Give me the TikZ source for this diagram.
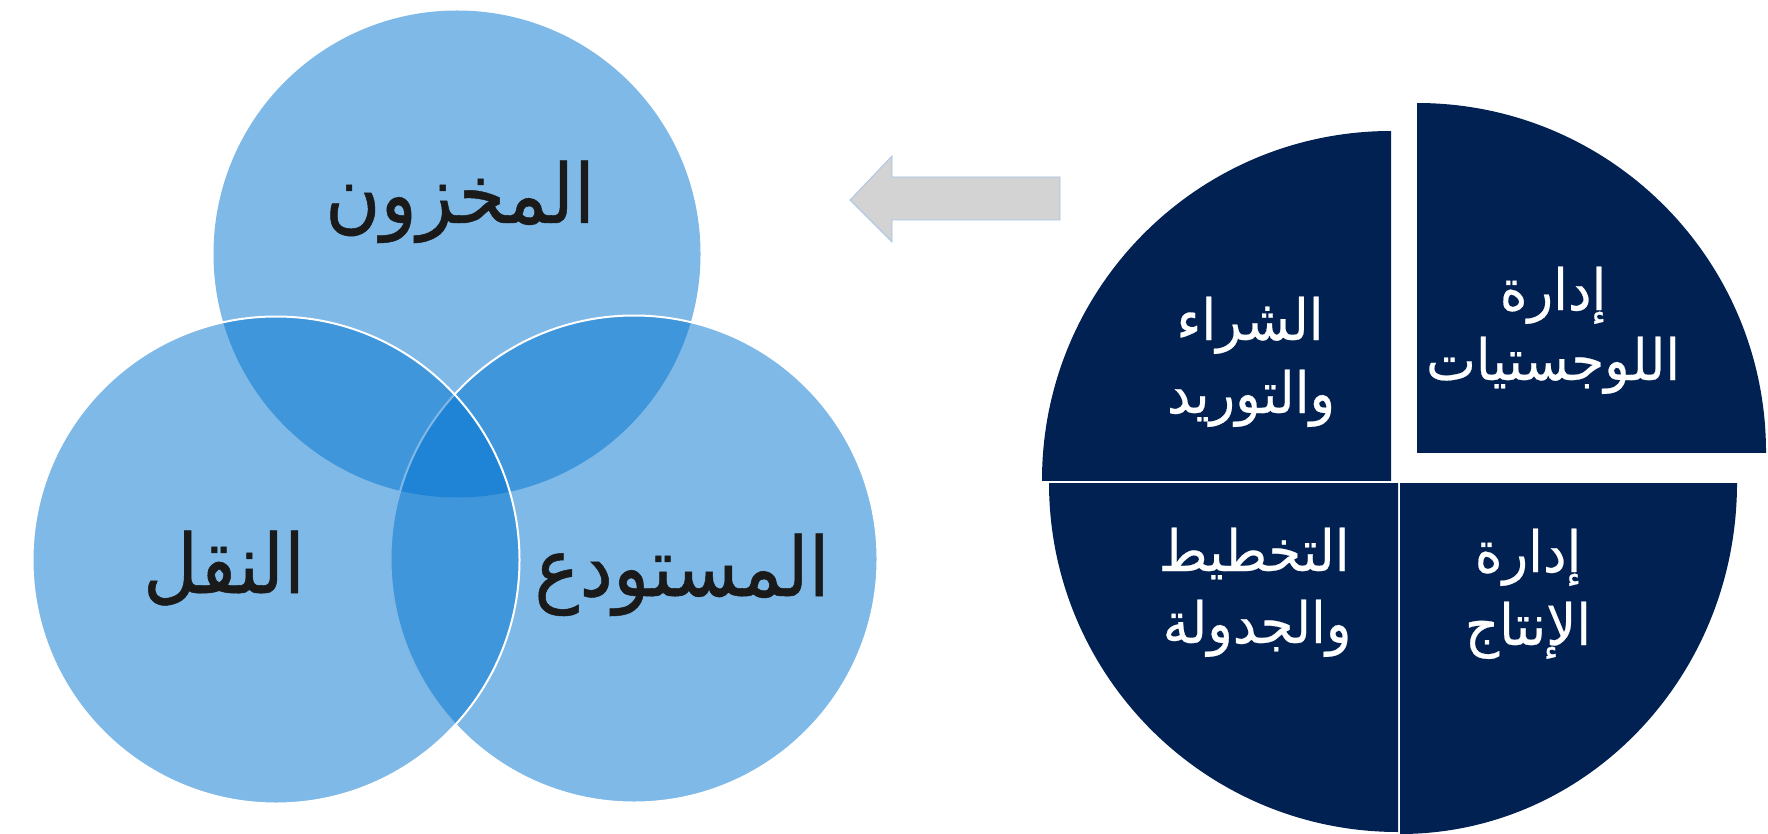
\documentclass[tikz,border=0pt]{standalone}
\usepackage{fontspec}
\TeXXeTstate=1
\newfontfamily\vennfont[Script=Arabic, FakeStretch=0.92, FakeBold=0.6]{DejaVu Sans}
\newfontfamily\piefont[Script=Arabic, FakeStretch=0.93, FakeBold=0.4]{DejaVu Sans}
\definecolor{vennblue}{RGB}{0,115,207}
\definecolor{pienavy}{RGB}{0,33,82}
\definecolor{arrowgray}{RGB}{211,211,211}
\definecolor{arrowedge}{RGB}{165,195,232}
\definecolor{venntextc}{RGB}{26,26,26}
\begin{document}
\begin{tikzpicture}[x=1pt,y=-1pt,
  vennc/.style={circle, minimum size=487pt, inner sep=0pt, outer sep=0pt, fill=vennblue, fill opacity=0.5},
  vennedge/.style={draw=white, line width=2pt},
  venntext/.style={anchor=base, inner sep=0pt, text=venntextc, font=\vennfont\fontsize{82}{96}\selectfont},
  pietext/.style={anchor=base, inner sep=0pt, text=white, font=\piefont\fontsize{57}{68}\selectfont},
  piefill/.style={fill=pienavy},
  arrowshape/.style={fill=arrowgray, draw=arrowedge, line width=0.8pt}]
\useasboundingbox (0,0) rectangle (1768,834);
\clip (0,0) rectangle (1768,834);
% Venn circles
\node[vennc] (inv) at (457,254) {};
\node[vennc, vennedge] (wh) at (634,559) {};
\node[vennc, vennedge] (tr) at (276,560) {};
\node[venntext] (tinv) at (460,223) {\beginR المخزون\endR};
\node[venntext] (ttr) at (224,593) {\beginR النقل\endR};
\node[venntext] (twh) at (682,596) {\beginR المستودع\endR};
% arrow
\draw[arrowshape] (850,200) -- (892,156) -- (892,177) -- (1060,177) -- (1060,220) -- (892,220) -- (892,242) -- cycle;
% pie pieces
\begin{scope}
  \clip (1417,0) rectangle (1768,452);
  \fill[piefill] (1417,452) circle[radius=349pt];
\end{scope}
\begin{scope}
  \clip (1000,0) rectangle (1391,480);
  \fill[piefill] (1391,480) circle[radius=349pt];
\end{scope}
\begin{scope}
  \clip (1000,483) rectangle (1398,834);
  \fill[piefill] (1398,483) circle[radius=349pt];
\end{scope}
\begin{scope}
  \clip (1400,483) rectangle (1768,834);
  \fill[piefill] (1400,483) ellipse[x radius=337pt, y radius=351pt];
\end{scope}
% pie texts
\node[pietext] (tl1) at (1250,340) {\beginR الشراء\endR};
\node[pietext] (tl2) at (1251,413) {\beginR والتوريد\endR};
\node[pietext] (tr1) at (1553,310) {\beginR إدارة\endR};
\node[pietext] (tr2) at (1553,380) {\beginR اللوجستيات\endR};
\node[pietext] (bl1) at (1254,571) {\beginR التخطيط\endR};
\node[pietext] (bl2) at (1257,643) {\beginR والجدولة\endR};
\node[pietext] (br1) at (1528,572) {\beginR إدارة\endR};
\node[pietext] (br2) at (1528,645) {\beginR الإنتاج\endR};
\end{tikzpicture}
\end{document}
